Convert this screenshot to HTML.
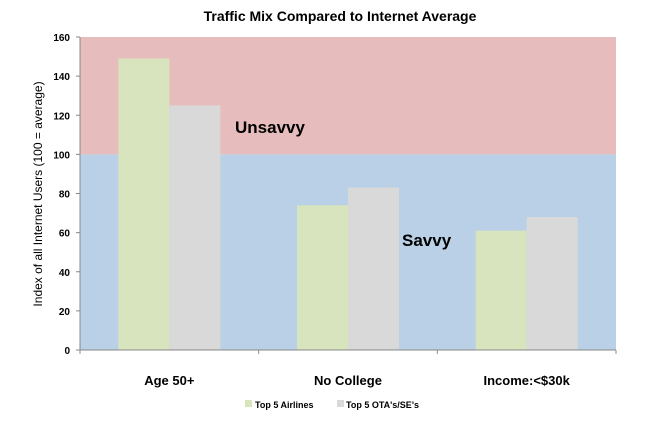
<!DOCTYPE html>
<html><head><meta charset="utf-8"><style>
body{margin:0;background:#fff;font-family:"Liberation Sans",sans-serif}
svg text{font-family:"Liberation Sans",sans-serif}
</style></head><body>
<svg width="663" height="425">
<text x="340" y="21" font-size="14" font-weight="bold" text-anchor="middle">Traffic Mix Compared to Internet Average</text>
<g id="plot"></g>
<text transform="translate(42,194) rotate(-90)" font-size="12" text-anchor="middle">Index of all Internet Users (100 = average)</text>
<text x="235" y="133" font-size="17" font-weight="bold">Unsavvy</text>
<text x="402" y="246" font-size="17" font-weight="bold">Savvy</text>
<g>
<rect x="245" y="400" width="7" height="7" fill="#d8e4bd"/>
<text x="255" y="408" font-size="9" font-weight="bold">Top 5 Airlines</text>
<rect x="337" y="400" width="7" height="7" fill="#d9d9d9"/>
<text x="346" y="408" font-size="9" font-weight="bold">Top 5 OTA's/SE's</text>
</g>
</svg>
<script>
const categories=["Age 50+","No College","Income:<$30k"];
const airlines=[149,74,61];
const otas=[125,83,68];
const yTicks=[0,20,40,60,80,100,120,140,160];
const NS="http://www.w3.org/2000/svg";
const L=80,R=616,T=37,B=350,ymax=160;
const y=v=>B-(v/ymax)*(B-T);
const band=(R-L)/categories.length;
const g=document.getElementById('plot');
function mk(t,a){const e=document.createElementNS(NS,t);for(const k in a)e.setAttribute(k,a[k]);g.appendChild(e);return e;}
let e=mk('rect',{x:L,y:T,width:R-L,height:y(100)-T,fill:'#e6bdbc'});


e=mk('rect',{x:L,y:y(100),width:R-L,height:B-y(100),fill:'#bad0e6'});


const bw=51;
categories.forEach((c,i)=>{
 const cx=L+band*(i+0.5);
 let b=mk('rect',{x:cx-bw,y:y(airlines[i]),width:bw,height:B-y(airlines[i]),fill:'#d8e4bd'});
 
 
 b=mk('rect',{x:cx,y:y(otas[i]),width:bw,height:B-y(otas[i]),fill:'#d9d9d9'});
 
 
 const t=mk('text',{x:cx,y:385,'font-size':13,'font-weight':'bold','text-anchor':'middle'});
 t.textContent=c;
 
 
});
mk('line',{x1:L,y1:T,x2:L,y2:B,stroke:'#888'});
mk('line',{x1:L,y1:B,x2:R,y2:B,stroke:'#888'});
for(let i=0;i<=categories.length;i++){const x=L+band*i;mk('line',{x1:x,y1:B,x2:x,y2:B+4,stroke:'#888'});}
yTicks.forEach(v=>{
 mk('line',{x1:L-4,y1:y(v),x2:L,y2:y(v),stroke:'#888'});
 const t=mk('text',{x:L-10,y:y(v)+4,'font-size':10,'font-weight':'bold','text-anchor':'end'});
 t.textContent=v;
 
 
});
</script>
</body></html>
